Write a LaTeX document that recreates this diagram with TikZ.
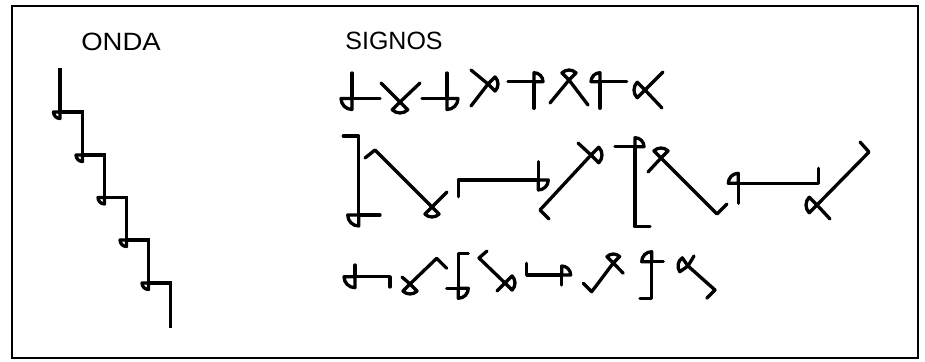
\documentclass[tikz,border=0pt]{standalone}
\usepackage{fontspec}
\setmainfont{Liberation Sans}
\newcommand{\sect}[4]{\draw[glyph] (#1,#2) -- ++(#3-45:#4) arc[start angle=#3-45, end angle=#3+45, radius=#4] -- cycle;}
\begin{document}
\begin{tikzpicture}[x=1pt,y=-1pt,
  glyph/.style={line width=3.3pt, line join=round, line cap=round},
  frame/.style={line width=1.3pt},
  label/.style={font=\fontsize{25}{30}\selectfont, inner sep=0pt}]
\useasboundingbox (0,0) rectangle (925,361);
\draw[frame] (12,6) rectangle (918,358);
\node[label, xscale=1.1] (onda) at (121,42) {ONDA};
\node[label] (signos) at (394,41) {SIGNOS};
% wave
\draw[glyph, line join=miter, line cap=butt] (60,68)--(60,112)--(82.5,112)--(82.5,155)--(104.5,155)--(104.5,197.5)--(126.5,197.5)--(126.5,240)--(148.5,240)--(148.5,283)--(170.5,283)--(170.5,328);
\foreach \cx/\cy in {60/112, 82.5/155, 104.5/197.5, 126.5/240, 148.5/283}
  {\sect{\cx}{\cy}{135}{6.5}}
% row 1
\draw[glyph] (352,73)--(352,98.5)--(380,98.5); \sect{352}{98.5}{135}{11}
\draw[glyph] (381,83)--(400,102)--(420,83); \sect{400}{102}{90}{11}
\draw[glyph] (447,73)--(447,98.5)--(422,98.5); \sect{447}{98.5}{45}{11}
\draw[glyph] (471,70)--(488,84)--(471,106); \sect{488}{84}{0}{10}
\draw[glyph] (508,81.7)--(534,81.7)--(534,108.3); \sect{534}{81.7}{315}{9}
\draw[glyph] (550,103)--(569,80)--(588,105); \sect{569}{80}{270}{10}
\draw[glyph] (626.7,81.7)--(600,81.7)--(600,108.3); \sect{600}{81.7}{225}{9}
\draw[glyph] (663,72)--(645,90)--(662,108); \sect{645}{90}{180}{11}
% row 2
\draw[glyph] (343.3,136)--(358.7,136)--(358.7,215)--(380,215); \sect{358.7}{215}{135}{11}
\draw[glyph] (365,158)--(375,150)--(432,207)--(447,192); \sect{432}{207}{90}{10}
\draw[glyph] (458.3,196.7)--(458.3,180)--(538.3,180)--(538.3,161.7); \sect{538.3}{180}{45}{10}
\draw[glyph] (549,219)--(540,210)--(591,155)--(578,143); \sect{591}{155}{0}{11}
\draw[glyph] (615,146.7)--(635,146.7)--(635,226.7)--(650,226.7); \sect{635}{146.7}{315}{9}
\draw[glyph] (648,172)--(661,158)--(717,214)--(727,204); \sect{661}{158}{270}{10}
\draw[glyph] (738.3,203.3)--(738.3,183.3)--(818.3,183.3)--(818.3,168.3); \sect{738.3}{183.3}{225}{10}
\draw[glyph] (860,142)--(869,152)--(817,205)--(830,219); \sect{817}{205}{180}{11}
% row 3
\draw[glyph] (355,265)--(355,276.7)--(390,276.7)--(390,287); \sect{355}{276.7}{135}{11}
\draw[glyph] (402,277)--(410,284)--(436.7,258.3)--(446.7,268.3); \sect{410}{284}{90}{10}
\draw[glyph] (446.7,288.3)--(458.3,288.3)--(458.3,253.3)--(468.3,253.3); \sect{458.3}{288.3}{45}{10}
\draw[glyph] (487,251)--(479,258)--(505,283)--(497,291); \sect{505}{283}{0}{10}
\draw[glyph] (526.7,263.3)--(526.7,275)--(561.7,275)--(561.7,285); \sect{561.7}{275}{315}{9}
\draw[glyph] (583.3,283.3)--(591.7,291.7)--(613.3,263)--(623.3,273.3); \sect{613.3}{263}{270}{9}
\draw[glyph] (663.3,261.7)--(651.7,261.7)--(651.7,298.3)--(640,298.3); \sect{651.7}{261.7}{225}{10}
\draw[glyph] (694,256)--(688,266)--(715,290)--(706.7,298.3); \sect{688}{266}{190}{10}
\end{tikzpicture}
\end{document}
